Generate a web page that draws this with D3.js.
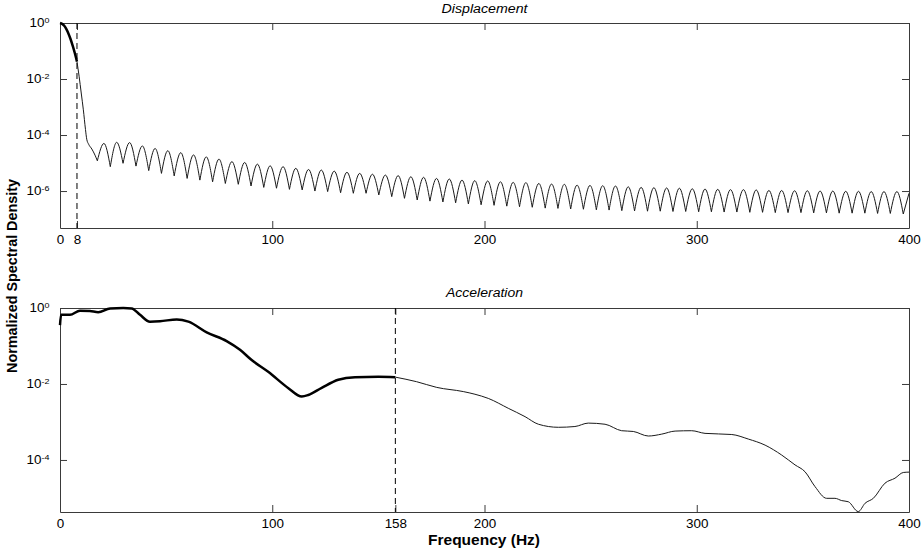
<!DOCTYPE html>
<html><head><meta charset="utf-8">
<script src="https://cdn.jsdelivr.net/npm/d3@7"></script>
<style>body{margin:0;background:#fff}svg{display:block;font-family:"Liberation Sans",Arial,Helvetica,sans-serif}</style>
</head><body><svg id="c" width="922" height="555"></svg>
<script>
// ---------------- data (log10 of normalized spectral density) ----------------
const dispXTicks = [0, 8, 100, 200, 300, 400];
const accXTicks = [0, 100, 158, 200, 300, 400];
const dispYExp = [0, -2, -4, -6];
const accYExp = [0, -2, -4];
const dispCut = 8, accCut = 158;

// displacement: band 0-8 Hz (bold)
const dispHeadFreq = [0, 1, 2, 3, 4, 5, 6, 7, 8];
const dispHeadLog = [0, -0.03, -0.1, -0.22, -0.38, -0.58, -0.82, -1.08, -1.38];
// steep drop after the band
const dispDropFreq = [8, 9, 10, 11, 12, 12.6, 13.5, 15, 16.5, 17.6];
const dispDropLog = [-1.38, -1.9, -2.5, -3.1, -3.8, -4.15, -4.33, -4.5, -4.72, -4.92];
// side lobes: peaks and troughs
const dispPeakFreq = [20.7, 26.7, 32.8, 38.8, 44.8, 50.8, 56.9, 62.9, 68.9, 74.9,
  81.0, 87.0, 93.0, 99.0, 105.1, 111.1, 117.1, 123.1, 129.2, 135.2,
  141.2, 147.2, 153.3, 159.3, 165.3, 171.3, 177.4, 183.4, 189.4, 195.4,
  201.5, 207.5, 213.5, 219.5, 225.6, 231.6, 237.6, 243.6, 249.7, 255.7,
  261.7, 267.7, 273.8, 279.8, 285.8, 291.8, 297.9, 303.9, 309.9, 315.9,
  322.0, 328.0, 334.0, 340.0, 346.1, 352.1, 358.1, 364.1, 370.2, 376.2,
  382.2, 388.2, 394.3, 400];
const dispPeakLog = [-4.30, -4.26, -4.27, -4.39, -4.48, -4.56, -4.63, -4.71, -4.78, -4.86,
  -4.95, -4.98, -5.04, -5.10, -5.13, -5.19, -5.23, -5.25, -5.29, -5.33,
  -5.37, -5.40, -5.43, -5.45, -5.49, -5.51, -5.55, -5.57, -5.61, -5.63,
  -5.64, -5.67, -5.69, -5.70, -5.73, -5.75, -5.76, -5.79, -5.80, -5.81,
  -5.82, -5.85, -5.87, -5.88, -5.89, -5.90, -5.92, -5.93, -5.94, -5.95,
  -5.95, -5.96, -5.98, -5.98, -5.99, -5.99, -6.00, -6.00, -6.01, -6.01,
  -6.02, -6.02, -6.02, -6.08];
const dispTroughFreq = [23.7, 29.7, 35.8, 41.8, 47.8, 53.8, 59.9, 65.9, 71.9, 77.9,
  84.0, 90.0, 96.0, 102.0, 108.1, 114.1, 120.1, 126.1, 132.2, 138.2,
  144.2, 150.2, 156.3, 162.3, 168.3, 174.3, 180.4, 186.4, 192.4, 198.4,
  204.5, 210.5, 216.5, 222.5, 228.6, 234.6, 240.6, 246.6, 252.7, 258.7,
  264.7, 270.7, 276.8, 282.8, 288.8, 294.8, 300.9, 306.9, 312.9, 318.9,
  325.0, 331.0, 337.0, 343.0, 349.1, 355.1, 361.1, 367.1, 373.2, 379.2,
  385.2, 391.2, 397.3];
const dispTroughLog = [-5.13, -5.01, -5.11, -5.27, -5.37, -5.46, -5.55, -5.61, -5.67, -5.73,
  -5.76, -5.82, -5.87, -5.90, -5.94, -5.96, -6.00, -6.02, -6.06, -6.08,
  -6.08, -6.14, -6.20, -6.26, -6.32, -6.36, -6.39, -6.42, -6.46, -6.49,
  -6.51, -6.54, -6.56, -6.58, -6.61, -6.62, -6.64, -6.65, -6.67, -6.68,
  -6.70, -6.71, -6.72, -6.72, -6.73, -6.73, -6.74, -6.74, -6.75, -6.75,
  -6.76, -6.76, -6.77, -6.77, -6.77, -6.78, -6.78, -6.79, -6.79, -6.79,
  -6.80, -6.80, -6.82];

// acceleration: band 0-158 Hz (bold)
const accHeadFreq = [0, 0.5, 4.7, 9.4, 14.1, 18, 23.6, 29.8, 33.8, 37.7, 42.4, 47.1, 55, 60.5,
  69.1, 78.5, 84.8, 90.3, 98.1, 107.6, 113.9, 117, 123.3, 131.1, 139, 150, 158];
const accHeadLog = [-0.45, -0.18, -0.18, -0.07, -0.08, -0.11, -0.01, 0, -0.01, -0.18, -0.36, -0.35, -0.30, -0.36,
  -0.64, -0.87, -1.1, -1.37, -1.68, -2.11, -2.33, -2.29, -2.10, -1.89, -1.82, -1.81, -1.82];
const accTailFreq = [158, 168, 177.5, 190, 195.5, 201.8, 211.2, 219.1, 225.4, 234.8, 242.6, 248.9,
  256.8, 264.6, 270.1, 277.2, 283.5, 289.8, 297.6, 303.9, 316.5, 324.3, 332.2, 340, 346.3, 351,
  355.7, 361.2, 365.1, 368.3, 371.4, 376.1, 379.3, 383.2, 388.7, 393.4, 397.3, 400];
const accTailLog = [-1.82, -1.94, -2.09, -2.20, -2.27, -2.38, -2.64, -2.86, -3.06, -3.14, -3.12, -3.03,
  -3.06, -3.23, -3.25, -3.37, -3.32, -3.24, -3.23, -3.30, -3.33, -3.45, -3.61, -3.87, -4.13, -4.31,
  -4.70, -5.01, -5.01, -5.07, -5.10, -5.36, -5.14, -5.01, -4.61, -4.48, -4.33, -4.32];

// ---------------- layout ----------------
const X0 = 60, X1 = 909;
const svg = d3.select("#c");
const TICK_FS = 12, TICK_SX = 1.12;

function pts(f, l) { return f.map((v, i) => [v, Math.pow(10, l[i])]); }

function panel(cfg) {
  const x = d3.scaleLinear().domain([0, 400]).range([X0, X1]);
  const y = d3.scaleLog().domain([Math.pow(10, cfg.ymin), 1]).range([cfg.bottom, cfg.top]);
  const g = svg.append("g");
  const yv = cfg.yExp.map(e => Math.pow(10, e));

  const gb = g.append("g").attr("transform", `translate(0,${cfg.bottom})`)
    .call(d3.axisBottom(x).tickValues(cfg.xTicks).tickSize(-7).tickSizeOuter(0).tickPadding(7).tickFormat(d3.format("d")));
  g.append("g").attr("transform", `translate(0,${cfg.top})`)
    .call(d3.axisTop(x).tickValues(cfg.xTicks).tickSize(-7).tickSizeOuter(0).tickFormat(() => ""));
  g.append("g").attr("transform", `translate(${X0},0)`)
    .call(d3.axisLeft(y).tickValues(yv).tickSize(-7).tickSizeOuter(0).tickFormat(() => ""));
  g.append("g").attr("transform", `translate(${X1},0)`)
    .call(d3.axisRight(y).tickValues(yv).tickSize(-7).tickSizeOuter(0).tickFormat(() => ""));
  g.selectAll(".domain, .tick line").attr("stroke", "#3a3a3a").attr("stroke-width", 1);
  gb.selectAll(".tick text").attr("font-size", TICK_FS).attr("fill", "#000")
    .attr("font-family", "Liberation Sans, Arial, sans-serif")
    .attr("transform", `scale(${TICK_SX},1)`);

  // y tick labels 10^k
  cfg.yExp.forEach(e => {
    const t = g.append("text").attr("transform", `translate(49.5,${y(Math.pow(10, e)) + 4.3}) scale(${TICK_SX},1)`)
      .attr("text-anchor", "end").attr("font-size", TICK_FS).attr("fill", "#000");
    t.append("tspan").text("10");
    t.append("tspan").attr("font-size", 8).attr("dy", -4.5).text(String(e));
  });

  // title
  g.append("text").attr("x", (X0 + X1) / 2).attr("y", cfg.titleY).attr("text-anchor", "middle")
    .attr("font-size", 12).attr("font-style", "italic").attr("textLength", cfg.titleLen)
    .attr("lengthAdjust", "spacingAndGlyphs").text(cfg.title);

  // cutoff
  g.append("line").attr("x1", x(cfg.cut)).attr("x2", x(cfg.cut)).attr("y1", cfg.top).attr("y2", cfg.bottom)
    .attr("stroke", "#000").attr("stroke-width", 1).attr("stroke-dasharray", "6,4");
  return { x, y, g };
}

// ---- Displacement ----
const P1 = panel({ top: 23, bottom: 228, ymin: -7.32, yExp: dispYExp, xTicks: dispXTicks,
  title: "Displacement", titleY: 13, titleLen: 86, cut: dispCut });
const line1 = d3.line().x(d => P1.x(d[0])).y(d => P1.y(d[1])).curve(d3.curveMonotoneX);
let dThin = line1(pts(dispDropFreq, dispDropLog));
const drop = pts(dispDropFreq, dispDropLog);
let prev = drop[drop.length - 1];
const peaks = pts(dispPeakFreq, dispPeakLog), troughs = pts(dispTroughFreq, dispTroughLog);
peaks.forEach((p, k) => {
  const arch = troughs[k] ? [prev, p, troughs[k]] : [prev, p];
  dThin += line1(arch);
  if (troughs[k]) prev = troughs[k];
});
P1.g.append("path").attr("d", dThin).attr("fill", "none").attr("stroke", "#1a1a1a").attr("stroke-width", 1);
P1.g.append("path").attr("d", line1(pts(dispHeadFreq, dispHeadLog))).attr("fill", "none")
  .attr("stroke", "#000").attr("stroke-width", 2.5);

// ---- Acceleration ----
const P2 = panel({ top: 308, bottom: 512, ymin: -5.37, yExp: accYExp, xTicks: accXTicks,
  title: "Acceleration", titleY: 297, titleLen: 77, cut: accCut });
const line2 = d3.line().x(d => P2.x(d[0])).y(d => P2.y(d[1])).curve(d3.curveMonotoneX);
P2.g.append("path").attr("d", line2(pts(accTailFreq, accTailLog))).attr("fill", "none")
  .attr("stroke", "#1a1a1a").attr("stroke-width", 1);
P2.g.append("path").attr("d", line2(pts(accHeadFreq, accHeadLog))).attr("fill", "none")
  .attr("stroke", "#000").attr("stroke-width", 2.5);

// ---- axis labels ----
svg.append("text").attr("transform", "translate(16.5,276) rotate(-90)").attr("text-anchor", "middle")
  .attr("font-size", 14).attr("font-weight", "bold").attr("textLength", 194)
  .attr("lengthAdjust", "spacingAndGlyphs").text("Normalized Spectral Density");
svg.append("text").attr("x", 484).attr("y", 545).attr("text-anchor", "middle")
  .attr("font-size", 14).attr("font-weight", "bold").attr("textLength", 112)
  .attr("lengthAdjust", "spacingAndGlyphs").text("Frequency (Hz)");
</script></body></html>
